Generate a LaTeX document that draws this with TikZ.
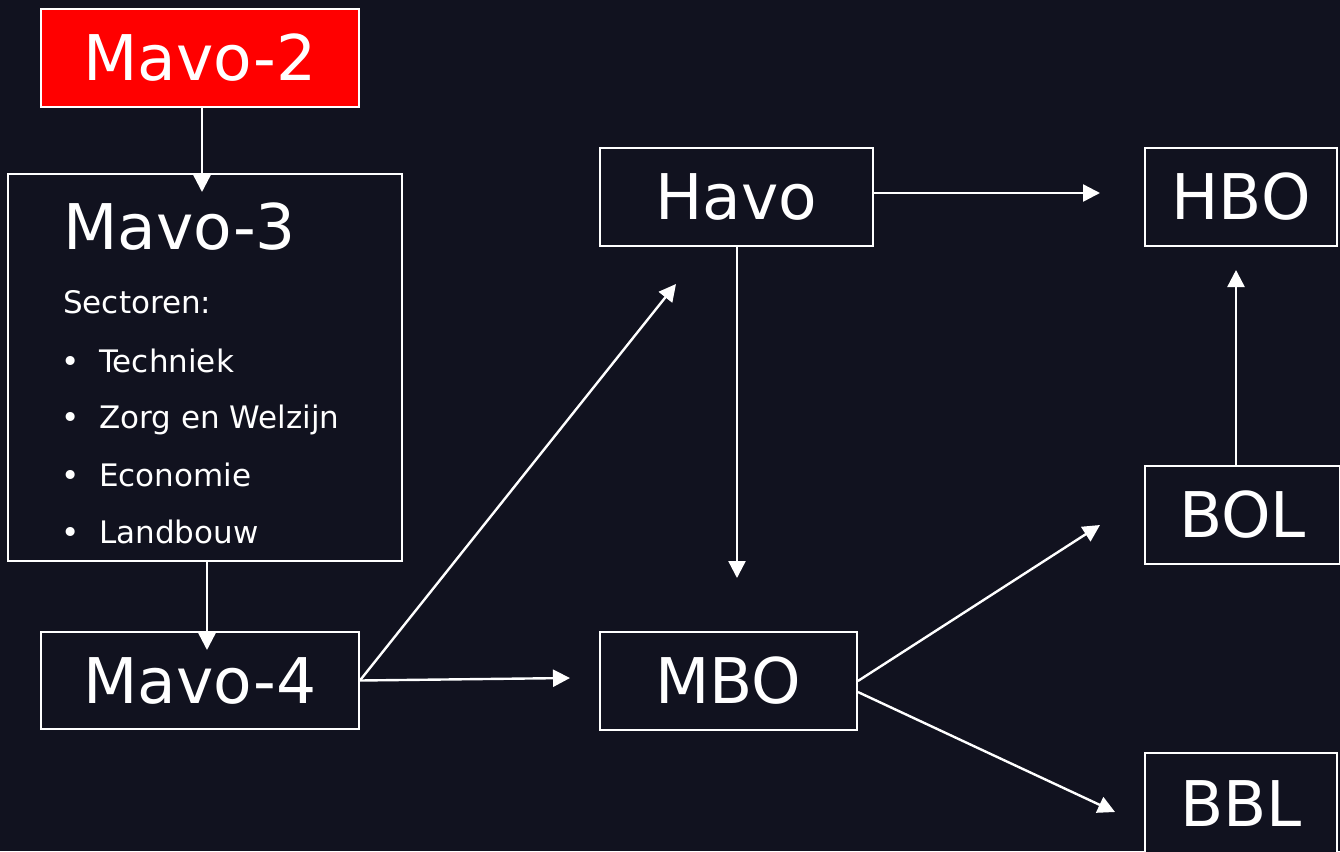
\documentclass[tikz,border=0pt]{standalone}
\usepackage{fontspec}
\setmainfont{DejaVu Sans}
\usetikzlibrary{arrows.meta}
\definecolor{bg}{HTML}{11121F}
\definecolor{boxred}{HTML}{FF0000}
\begin{document}
\begin{tikzpicture}[x=1pt,y=-1pt,
  box/.style={draw=white, line width=1.8pt, inner sep=0pt, fill=bg, text=white,
              font=\fontsize{63}{68}\selectfont},
  big/.style={text=white, inner sep=0pt, anchor=base west, font=\fontsize{63}{68}\selectfont},
  small/.style={text=white, inner sep=0pt, anchor=base west, font=\fontsize{31}{36}\selectfont},
  arr/.style={draw=white, line width=2.4pt, -{Triangle[length=17pt,width=17pt]}}]
\fill[bg] (0,0) rectangle (1340,851);
\useasboundingbox (0,0) rectangle (1340,851);

\node[box, fill=boxred, minimum width=318pt, minimum height=98pt] (m2) at (200,58) {Mavo-2};
\node[box, minimum width=394pt, minimum height=387pt] (m3) at (205,367.5) {};
\node[big] (m3t) at (63,249) {Mavo-3};
\node[small] (sec) at (63,313) {Sectoren:};
\node[small] (b1) at (61,372) {•};
\node[small] (i1) at (99,372) {Techniek};
\node[small] (b2) at (61,428) {•};
\node[small] (i2) at (99,428) {Zorg en Welzijn};
\node[small] (b3) at (61,486) {•};
\node[small] (i3) at (99,486) {Economie};
\node[small] (b4) at (61,543) {•};
\node[small] (i4) at (99,543) {Landbouw};

\node[box, minimum width=318pt, minimum height=97pt] (m4) at (200,680.5) {Mavo-4};
\node[box, minimum width=273pt, minimum height=98pt] (havo) at (736.5,197) {Havo};
\node[box, minimum width=257pt, minimum height=98pt] (mbo) at (728.5,681) {MBO};
\node[box, minimum width=192pt, minimum height=98pt] (hbo) at (1241,197) {HBO};
\node[box, minimum width=195pt, minimum height=98pt] (bol) at (1242.5,515) {BOL};
\node[box, minimum width=192pt, minimum height=102pt] (bbl) at (1241,804) {BBL};

\coordinate (c1) at (202,192);
\coordinate (c2) at (207,650);
\coordinate (c3) at (570,678);
\coordinate (c4) at (676,284);
\coordinate (c5) at (737,578);
\coordinate (c6) at (1100,193);
\coordinate (c7s) at (1236,466);
\coordinate (c7) at (1236,270);
\coordinate (c8) at (1100,525);
\coordinate (c9) at (1115,812);

\draw[arr] (m2.south -| c1) -- (c1);
\draw[arr] (m3.south -| c2) -- (c2);
\draw[arr] (m4.east) -- (c3);
\draw[arr] (m4.east) -- (c4);
\draw[arr] (havo.south -| c5) -- (c5);
\draw[arr] (havo.east |- c6) -- (c6);
\draw[arr] (bol.north -| c7s) -- (c7);
\draw[arr] (mbo.east) -- (c8);
\draw[arr] ([yshift=-11pt]mbo.east) -- (c9);
\end{tikzpicture}
\end{document}
